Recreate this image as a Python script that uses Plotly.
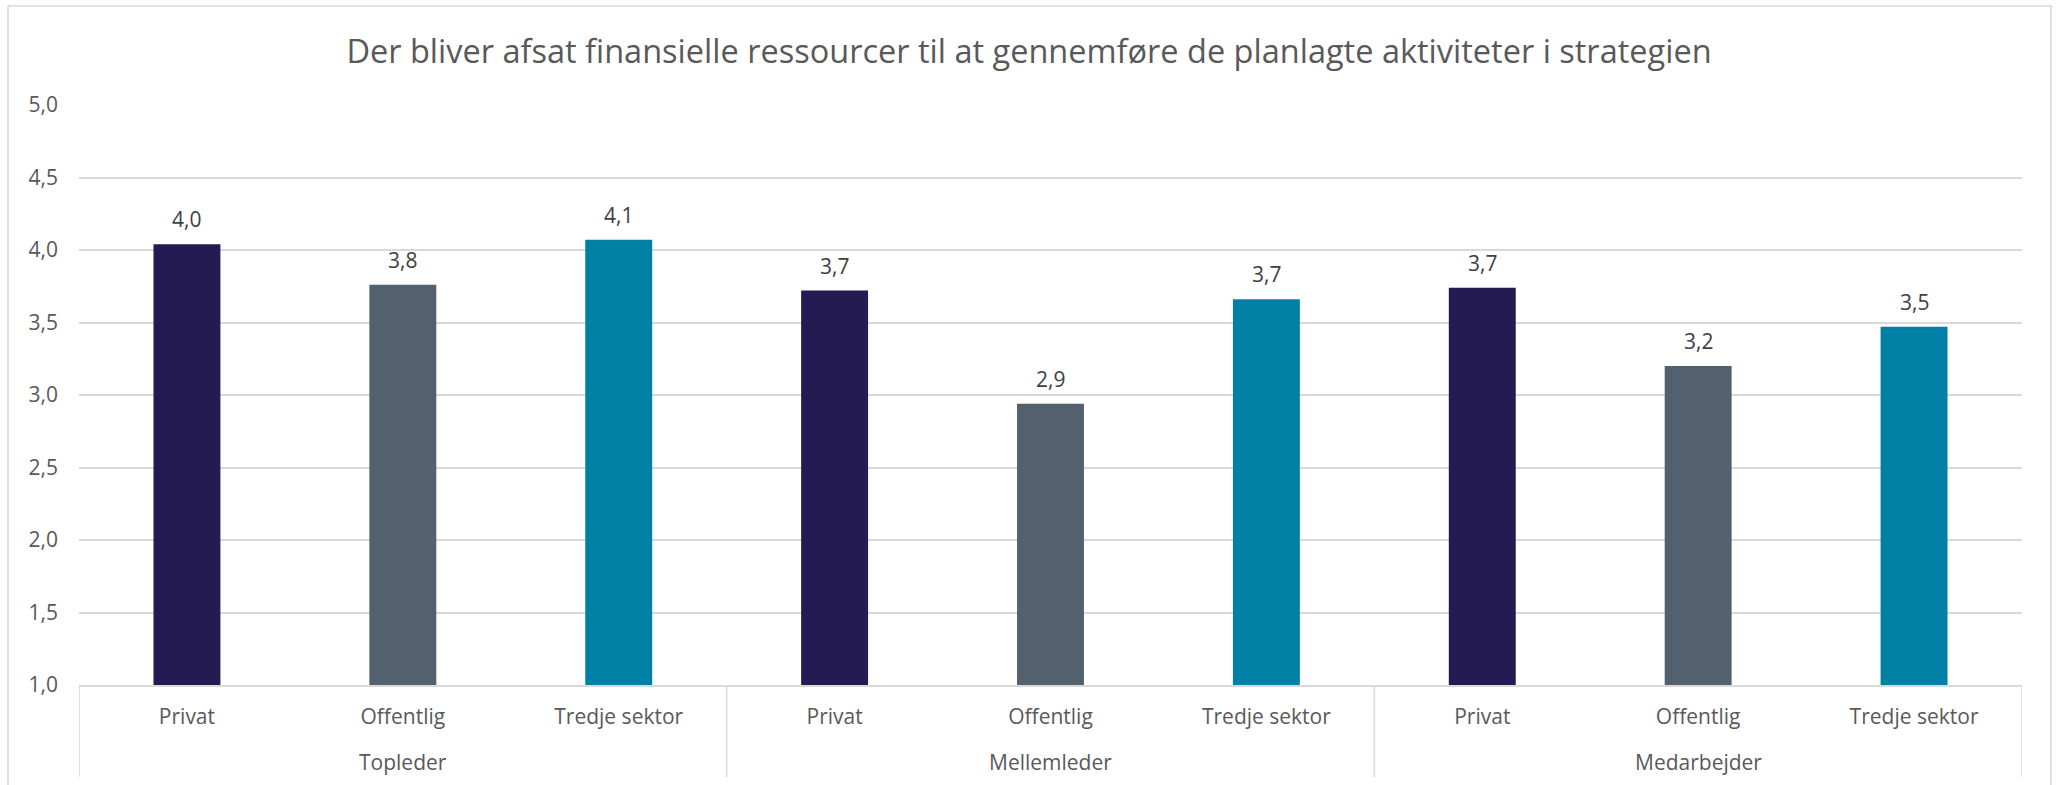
import plotly.graph_objects as go

groups = ["Topleder", "Mellemleder", "Medarbejder"]
sectors = ["Privat", "Offentlig", "Tredje sektor"]
values = [4.04, 3.76, 4.07, 3.72, 2.94, 3.66, 3.74, 3.20, 3.47]
sector_colors = {"Privat": "#231B51", "Offentlig": "#53616E", "Tredje sektor": "#0080A4"}
title = "Der bliver afsat finansielle ressourcer til at gennemføre de planlagte aktiviteter i strategien"
y_ticks = [1.0, 1.5, 2.0, 2.5, 3.0, 3.5, 4.0, 4.5, 5.0]

x_inner = [s for _ in groups for s in sectors]
x_pos = list(range(len(x_inner)))
colors = [sector_colors[s] for s in x_inner]

W, H = 2058, 785
ml, mr, mt, mb = 79, 36, 105, 100
pw, ph = W - ml - mr, H - mt - mb

FONT = "Open Sans"
GRID = "#d9d9d9"


def px(x):
    return (x - ml) / pw


def py(y):
    return (H - mb - y) / ph


fig = go.Figure()
fig.add_trace(go.Bar(
    x=x_pos, y=values,
    marker=dict(color=colors, line=dict(width=0)),
    showlegend=False, hoverinfo="y",
))

annotations = []
for i, v in enumerate(values):
    annotations.append(dict(
        x=i, y=v, xref="x", yref="y", text=f"{v:.1f}".replace(".", ","),
        showarrow=False, yanchor="middle", yshift=25,
        font=dict(size=21, color="#404040", family=FONT),
    ))
n = len(sectors)
for gi, g in enumerate(groups):
    annotations.append(dict(
        x=gi * n + (n - 1) / 2, y=py(762), xref="x", yref="paper", text=g,
        showarrow=False, yanchor="middle",
        font=dict(size=21, color="#595959", family=FONT),
    ))

shapes = [dict(type="rect", xref="paper", yref="paper",
               x0=px(8), x1=px(2051), y0=py(6), y1=py(800),
               line=dict(color=GRID, width=1.5), fillcolor="rgba(0,0,0,0)", layer="below")]
for gi in range(len(groups) + 1):
    shapes.append(dict(type="line", xref="x", yref="paper",
                       x0=gi * n - 0.5, x1=gi * n - 0.5, y0=0, y1=py(777),
                       line=dict(color=GRID, width=1.5)))

fig.update_layout(
    width=W, height=H,
    margin=dict(l=ml, r=mr, t=mt, b=mb),
    paper_bgcolor="white", plot_bgcolor="white",
    separators=",.",
    bargap=0.69,
    font=dict(family=FONT, color="#595959"),
    title=dict(text=title, x=0.5, xanchor="center", y=1 - 52 / H, yanchor="middle",
               font=dict(size=32.5, color="#595959", family=FONT)),
    xaxis=dict(range=[-0.5, len(x_inner) - 0.5], tickvals=x_pos, ticktext=x_inner,
               showline=True, linecolor=GRID, linewidth=1.5, ticks="", ticklabelstandoff=12,
               tickfont=dict(size=21, color="#595959", family=FONT), showgrid=False,
               zeroline=False, automargin=False),
    yaxis=dict(range=[1, 5], tickvals=y_ticks, tickformat=".1f", showgrid=True, gridcolor=GRID,
               gridwidth=1.5, zeroline=False, showline=False, ticks="", ticklabelstandoff=20,
               tickfont=dict(size=21, color="#595959", family=FONT), automargin=False),
    annotations=annotations,
    shapes=shapes,
)

fig.write_html("out.html", config={"displayModeBar": False},
               post_script="document.body.style.margin='0';document.body.style.overflow='hidden';")
